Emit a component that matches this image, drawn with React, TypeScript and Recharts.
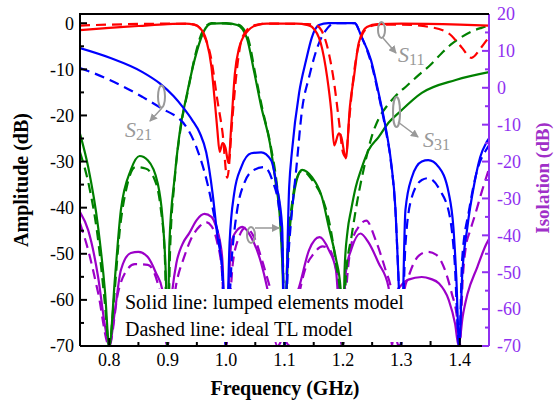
import React from 'react';
import { LineChart, Line, XAxis, YAxis } from 'recharts';

// [frequency GHz, dB]
const s11Solid = [
  [0.75, -1.5], [0.8, -1.0], [0.85, -0.6], [0.9, -0.2], [0.93, -0.1], [0.945, -0.3], [0.955, -1], [0.966, -3.6],
  [0.975, -9.5], [0.98, -16], [0.985, -23], [0.989, -27.9], [0.994, -26], [0.999, -27], [1.004, -30.3], [1.009, -22],
  [1.015, -11], [1.022, -5.5], [1.035, -2], [1.053, -0.4], [1.07, -0.1], [1.12, -0.1], [1.14, -0.4], [1.147, -0.8],
  [1.162, -4.3], [1.173, -11.7], [1.18, -19], [1.185, -26.5], [1.193, -23.9], [1.197, -24.6], [1.205, -29.3],
  [1.212, -18], [1.219, -11.5], [1.227, -4.3], [1.241, -0.8], [1.26, -0.2], [1.3, -0.1], [1.4, -0.3], [1.45, -0.5],
];
const s11Dashed = [
  [0.75, -0.5], [0.8, -0.3], [0.9, -0.1], [0.94, -0.2], [0.95, -0.5], [0.96, -2.1], [0.975, -8], [0.985, -16.6],
  [0.994, -23.8], [1.002, -33.5], [1.011, -20.3], [1.019, -9.5], [1.028, -3], [1.045, -0.6], [1.07, -0.1],
  [1.14, -0.2], [1.155, -0.5], [1.163, -1.5], [1.175, -6], [1.185, -13], [1.193, -21], [1.2, -28], [1.205, -29],
  [1.21, -22], [1.216, -14], [1.222, -8], [1.23, -3.5], [1.24, -1.2], [1.26, -0.3], [1.3, -0.3], [1.347, -0.8],
  [1.38, -2.1], [1.403, -5.2], [1.42, -7.5], [1.437, -5.2], [1.45, -3],
];
const s31Solid = [
  [0.75, -24], [0.764, -31.2], [0.781, -44.2], [0.793, -58.5], [0.8, -70], [0.81, -55], [0.82, -40.5],
  [0.837, -31.8], [0.852, -28.8], [0.866, -29.7], [0.883, -34.7], [0.891, -42], [0.897, -55], [0.9, -70],
  [0.903, -47.7], [0.912, -33.4], [0.922, -22.5], [0.932, -16], [0.946, -8], [0.963, -1.5], [0.975, -0.1], [1.0, 0],
  [1.019, -0.4], [1.035, -3], [1.048, -10.5], [1.06, -18], [1.075, -26], [1.085, -34.7], [1.092, -42], [1.097, -55],
  [1.1, -70], [1.106, -50], [1.113, -40], [1.12, -34.5], [1.13, -31.8], [1.147, -33.4], [1.164, -37.7],
  [1.176, -44.3], [1.188, -51], [1.196, -57.5], [1.2, -70], [1.203, -53], [1.208, -45], [1.214, -40.5],
  [1.222, -35.5], [1.231, -31.8], [1.244, -27.5], [1.261, -24.7], [1.278, -21.6], [1.295, -19.5], [1.335, -15.1],
  [1.393, -12.3], [1.45, -10.6],
];
const s31Dashed = [
  [0.75, -28], [0.765, -35], [0.78, -46], [0.792, -60], [0.8, -70], [0.808, -60], [0.818, -45], [0.83, -35.5],
  [0.845, -31.2], [0.862, -31.5], [0.878, -34], [0.888, -40], [0.895, -50], [0.9, -70], [0.904, -50], [0.912, -34],
  [0.922, -23], [0.935, -14.5], [0.948, -6.5], [0.963, -1], [0.975, 0], [1.02, -0.3], [1.037, -3], [1.05, -11],
  [1.062, -18.5], [1.077, -27], [1.087, -35], [1.094, -44], [1.098, -55], [1.1, -70], [1.105, -50], [1.113, -39],
  [1.12, -34], [1.13, -32], [1.15, -34.5], [1.165, -38], [1.178, -44], [1.188, -52], [1.196, -60], [1.2, -70],
  [1.205, -55], [1.215, -46], [1.224, -39], [1.239, -29.7], [1.249, -24.7], [1.262, -20.5], [1.275, -18],
  [1.29, -15.8], [1.31, -13.5], [1.33, -11.2], [1.35, -9], [1.369, -6.5], [1.385, -4.6], [1.403, -3], [1.42, -1.8],
  [1.437, -1], [1.45, -0.5],
];
const s21Solid = [
  [0.75, -5.4], [0.801, -7.5], [0.857, -10.6], [0.886, -13], [0.91, -15.8], [0.926, -18.2], [0.942, -21],
  [0.955, -23.8], [0.966, -28], [0.977, -37], [0.985, -46], [0.994, -54], [1.0, -70], [1.006, -47.7], [1.014, -36.8],
  [1.026, -31.2], [1.043, -28.2], [1.06, -28], [1.077, -29.7], [1.087, -35.5], [1.096, -44.2], [1.1, -70],
  [1.108, -35.5], [1.113, -27.5], [1.125, -15.1], [1.137, -8], [1.147, -3], [1.159, -0.4], [1.175, 0], [1.22, 0],
  [1.232, -3], [1.248, -8], [1.261, -15.1], [1.273, -22.5], [1.282, -29.7], [1.29, -40.5], [1.295, -55], [1.3, -70],
  [1.307, -40.5], [1.318, -33.4], [1.335, -30], [1.346, -29.7], [1.364, -31.2], [1.381, -36.8], [1.389, -44.2],
  [1.394, -55], [1.399, -70], [1.404, -55], [1.413, -44.2], [1.425, -34.7], [1.435, -29], [1.445, -26], [1.45, -25],
];
const s21Dashed = [
  [0.75, -9.7], [0.801, -12.3], [0.857, -16], [0.886, -18.2], [0.932, -22.5], [0.951, -27.5], [0.968, -34.7],
  [0.98, -42], [0.992, -51.3], [1.0, -70], [1.011, -49], [1.019, -40.5], [1.031, -34.7], [1.048, -31.8],
  [1.065, -31.2], [1.079, -34], [1.091, -40.5], [1.097, -52], [1.1, -70], [1.106, -52], [1.113, -40.5],
  [1.12, -31.8], [1.13, -18.8], [1.142, -11.7], [1.159, -4.3], [1.171, -1.5], [1.185, 0], [1.22, 0], [1.232, -3],
  [1.248, -8.5], [1.261, -15.5], [1.273, -23], [1.282, -30], [1.29, -41], [1.295, -55], [1.3, -70], [1.307, -48],
  [1.318, -37.7], [1.335, -34], [1.346, -33.6], [1.366, -36.2], [1.383, -42], [1.391, -51.3], [1.399, -70],
  [1.404, -51.3], [1.416, -40.5], [1.43, -31.8], [1.445, -27.5], [1.45, -26.5],
];
// isolation, right axis
const isoSolid = [
  [0.75, -33.7], [0.764, -38.6], [0.781, -51.3], [0.793, -64.8], [0.8, -70], [0.81, -60.2], [0.82, -49.4],
  [0.837, -44.8], [0.85, -44.5], [0.866, -45.9], [0.88, -50.2], [0.891, -54.8], [0.9, -70], [0.908, -55],
  [0.915, -47.5], [0.925, -42.5], [0.937, -39.4], [0.95, -35.8], [0.963, -34.2], [0.975, -35], [0.983, -37.7],
  [0.99, -42], [0.994, -47.5], [0.999, -70], [1.009, -42], [1.019, -38.6], [1.028, -37.7], [1.043, -40.5],
  [1.06, -47.5], [1.07, -54], [1.088, -70], [1.11, -60], [1.125, -54], [1.142, -44], [1.16, -40.5], [1.176, -44],
  [1.188, -49.4], [1.198, -70], [1.205, -50], [1.215, -43.5], [1.23, -39.5], [1.244, -42], [1.261, -47.5],
  [1.278, -54], [1.284, -70], [1.29, -56], [1.3, -53.5], [1.312, -52], [1.335, -51.3], [1.35, -51.8], [1.364, -53],
  [1.381, -57.5], [1.392, -64], [1.398, -70], [1.405, -62], [1.413, -56], [1.43, -48.6], [1.445, -42.5], [1.45, -41],
];
const isoDashed = [
  [0.75, -36.7], [0.764, -44], [0.781, -55.6], [0.8, -70], [0.815, -55.6], [0.827, -50.2], [0.844, -47.8],
  [0.866, -48], [0.883, -53], [0.9, -70], [0.915, -53], [0.928, -46], [0.94, -41], [0.955, -37.5], [0.965, -36.4],
  [0.975, -37.5], [0.985, -42], [0.993, -50], [1.0, -70], [1.012, -47], [1.022, -40.5], [1.033, -38], [1.048, -40.5],
  [1.062, -47], [1.075, -54], [1.11, -70], [1.125, -56], [1.135, -49.4], [1.15, -45], [1.165, -43], [1.175, -43.5],
  [1.185, -47], [1.193, -54], [1.2, -70], [1.207, -52], [1.215, -42], [1.228, -37.5], [1.24, -36], [1.256, -41.3],
  [1.273, -49.4], [1.283, -54.8], [1.295, -70], [1.303, -57], [1.315, -50], [1.33, -45.5], [1.345, -44.5],
  [1.36, -45.3], [1.376, -50], [1.386, -55.6], [1.395, -62], [1.4, -70], [1.405, -52], [1.41, -43.5], [1.418, -38.6],
  [1.427, -34], [1.437, -28.5], [1.45, -22],
];

const freqTicks = [0.8, 0.85, 0.9, 0.95, 1.0, 1.05, 1.1, 1.15, 1.2, 1.25, 1.3, 1.35, 1.4];
const ampTicks = [0, -5, -10, -15, -20, -25, -30, -35, -40, -45, -50, -55, -60, -65, -70];
const isoTicks = [20, 15, 10, 5, 0, -5, -10, -15, -20, -25, -30, -35, -40, -45, -50, -55, -60, -65, -70];

const FONT = "'Liberation Serif', 'Times New Roman', serif";
const RED = '#ff0000';
const BLUE = '#0000ff';
const GREEN = '#008000';
const PURPLE = '#9c00c8';
const AXIS_PURPLE = '#9030f0';
const GREY = '#999999';

const pts = (arr: number[][]) => arr.map(([f, v]) => ({ f, v }));

const LeftTick = (props: any) => {
  const { x, y, payload } = props;
  const v = payload.value;
  const major = v % 10 === 0;
  return (
    <g>
      <line x1={x + 6} y1={y} x2={x + 6 + (major ? 7 : 4)} y2={y} stroke="#000" strokeWidth={2} />
      {major && (
        <text x={x} y={y} dy="0.35em" textAnchor="end" fontFamily={FONT} fontSize={18} fill="#000">
          {v}
        </text>
      )}
    </g>
  );
};

const RightTick = (props: any) => {
  const { x, y, payload } = props;
  const v = payload.value;
  const major = v % 10 === 0;
  return (
    <g>
      <line x1={x - 8} y1={y} x2={x - 8 - (major ? 7 : 4)} y2={y} stroke={AXIS_PURPLE} strokeWidth={2} />
      {major && (
        <text x={x} y={y} dy="0.35em" textAnchor="start" fontFamily={FONT} fontSize={18} fill={AXIS_PURPLE}>
          {v}
        </text>
      )}
    </g>
  );
};

const BottomTick = (props: any) => {
  const { x, y, payload } = props;
  const v = payload.value;
  const major = Math.round(v * 100) % 10 === 0;
  return (
    <g>
      <line x1={x} y1={y - 1} x2={x} y2={y - 1 - (major ? 7 : 4)} stroke="#000" strokeWidth={2} />
      {major && (
        <text x={x} y={y + 20} textAnchor="middle" fontFamily={FONT} fontSize={18} fill="#000">
          {v.toFixed(1)}
        </text>
      )}
    </g>
  );
};

const Tag = ({ x, y, sub }: { x: number; y: number; sub: string }) => (
  <text x={x} y={y} fontFamily={FONT} fill={GREY} fontSize={22} fontStyle="italic">
    S
    <tspan fontSize={16} fontStyle="normal" dy={3}>
      {sub}
    </tspan>
  </text>
);

const Overlay = () => (
  <svg
    width={556}
    height={405}
    style={{ position: 'absolute', left: 0, top: 0, pointerEvents: 'none' }}
  >
    <defs>
      <marker id="arr" markerWidth="8" markerHeight="8" refX="7" refY="4" orient="auto" markerUnits="userSpaceOnUse">
        <path d="M0,0 L8,4 L0,8 Z" fill={GREY} />
      </marker>
    </defs>
    {/* top frame */}
    <line x1={79} y1={14} x2={489} y2={14} stroke="#000" strokeWidth={2} />

    {/* legend box */}
    <rect x={121} y={289} width={289} height={53} fill="#fff" />
    <text x={125} y={309} fontFamily={FONT} fontSize={20} fill="#000">Solid line: lumped elements model</text>
    <text x={125} y={336} fontFamily={FONT} fontSize={20} fill="#000">Dashed line: ideal TL model</text>

    {/* annotations */}
    <ellipse cx={161.5} cy={96.5} rx={3.5} ry={11} fill="none" stroke={GREY} strokeWidth={2} />
    <line x1={162} y1={108} x2={150} y2={121} stroke={GREY} strokeWidth={1.5} markerEnd="url(#arr)" />
    <Tag x={125} y={137} sub="21" />

    <ellipse cx={381.5} cy={30} rx={3.5} ry={8} fill="none" stroke={GREY} strokeWidth={2} />
    <line x1={383} y1={38} x2={396} y2={53} stroke={GREY} strokeWidth={1.5} markerEnd="url(#arr)" />
    <Tag x={398} y={62} sub="11" />

    <ellipse cx={396.5} cy={112} rx={3.5} ry={15} fill="none" stroke={GREY} strokeWidth={2} />
    <line x1={398} y1={122} x2={418} y2={137} stroke={GREY} strokeWidth={1.5} markerEnd="url(#arr)" />
    <Tag x={423} y={147} sub="31" />

    <ellipse cx={251} cy={235} rx={4} ry={8} fill="none" stroke={GREY} strokeWidth={2} />
    <line x1={255} y1={228} x2={279} y2={228} stroke={GREY} strokeWidth={1.5} markerEnd="url(#arr)" />

    {/* axis titles */}
    <text x={285} y={395} textAnchor="middle" fontFamily={FONT} fontSize={20} fontWeight="bold" fill="#000">
      Frequency (GHz)
    </text>
    <text
      transform="translate(28,180) rotate(-90)"
      textAnchor="middle"
      fontFamily={FONT}
      fontSize={20}
      fontWeight="bold"
      fill="#000"
    >
      Amplitude (dB)
    </text>
    <text
      transform="translate(549,178) rotate(-90)"
      textAnchor="middle"
      fontFamily={FONT}
      fontSize={19}
      fontWeight="bold"
      fill="#a030c8"
    >
      Isolation (dB)
    </text>
  </svg>
);

const series = [
  { key: 'isoS', data: isoSolid, color: PURPLE, dash: undefined, axis: 'iso' },
  { key: 'isoD', data: isoDashed, color: PURPLE, dash: '10 6', axis: 'iso' },
  { key: 's31S', data: s31Solid, color: GREEN, dash: undefined, axis: 'amp' },
  { key: 's31D', data: s31Dashed, color: GREEN, dash: '10 6', axis: 'amp' },
  { key: 's21S', data: s21Solid, color: BLUE, dash: undefined, axis: 'amp' },
  { key: 's21D', data: s21Dashed, color: BLUE, dash: '10 6', axis: 'amp' },
  { key: 's11S', data: s11Solid, color: RED, dash: undefined, axis: 'amp' },
  { key: 's11D', data: s11Dashed, color: RED, dash: '10 6', axis: 'amp' },
];

export default function App() {
  return (
    <div style={{ position: 'absolute', left: 0, top: 0, width: 556, height: 405, background: '#fff' }}>
      <LineChart width={556} height={405} margin={{ top: 14, right: 0, bottom: 0, left: 0 }}>
        <XAxis
          dataKey="f"
          type="number"
          domain={[0.75, 1.45]}
          ticks={freqTicks}
          interval={0}
          allowDataOverflow
          height={59}
          axisLine={{ stroke: '#000', strokeWidth: 2 }}
          tickLine={false}
          tickSize={0}
          tickMargin={0}
          tick={<BottomTick />}
        />
        <YAxis
          yAxisId="amp"
          type="number"
          domain={[-70, 2]}
          ticks={ampTicks}
          interval={0}
          allowDataOverflow
          width={80}
          axisLine={{ stroke: '#000', strokeWidth: 2 }}
          tickLine={false}
          tickSize={0}
          tickMargin={6}
          tick={<LeftTick />}
        />
        <YAxis
          yAxisId="iso"
          orientation="right"
          type="number"
          domain={[-70, 20]}
          ticks={isoTicks}
          interval={0}
          allowDataOverflow
          width={67}
          axisLine={{ stroke: AXIS_PURPLE, strokeWidth: 2 }}
          tickLine={false}
          tickSize={0}
          tickMargin={8}
          tick={<RightTick />}
        />
        {series.map((s) => (
          <Line
            key={s.key}
            data={pts(s.data)}
            dataKey="v"
            yAxisId={s.axis}
            type="monotone"
            stroke={s.color}
            strokeWidth={2.2}
            strokeDasharray={s.dash}
            dot={false}
            activeDot={false}
            isAnimationActive={false}
          />
        ))}
      </LineChart>
      <Overlay />
    </div>
  );
}
